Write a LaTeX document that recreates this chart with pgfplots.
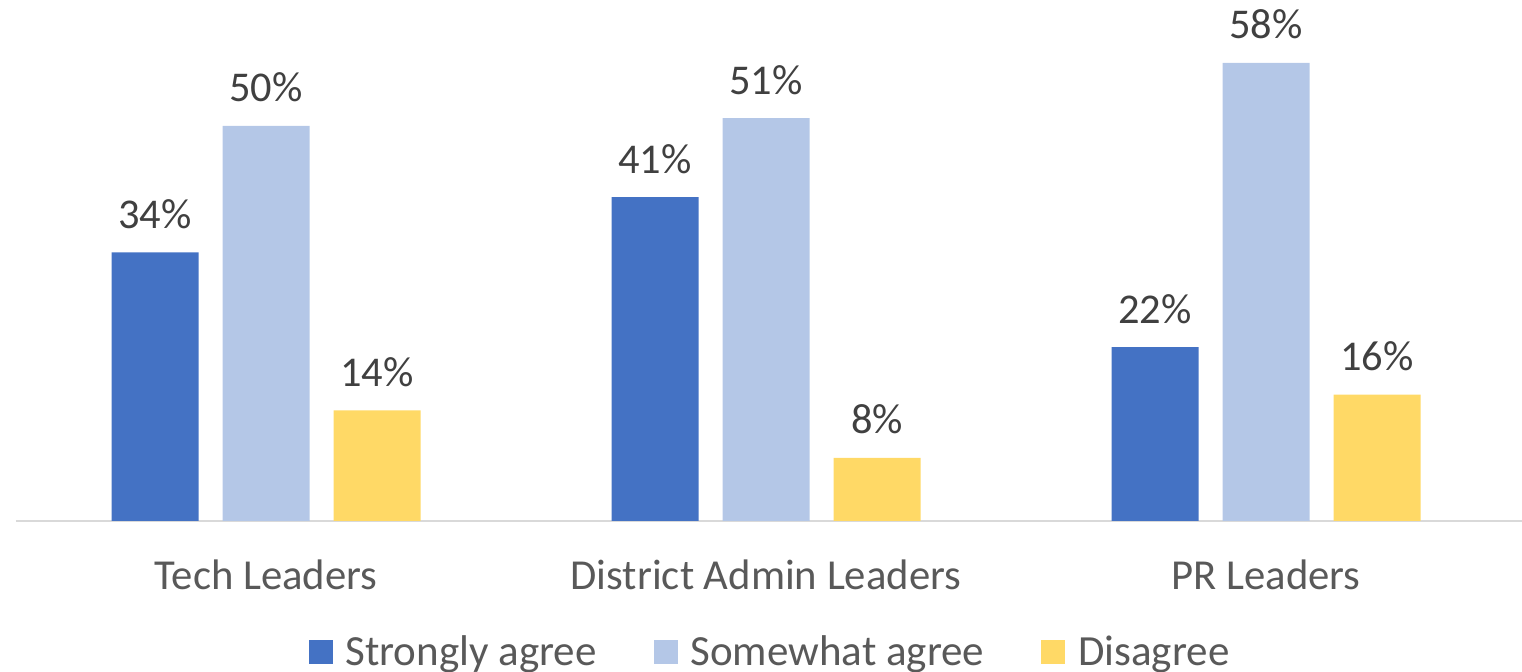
\documentclass[border=0pt]{standalone}
\usepackage{pgfplots}
\pgfplotsset{compat=1.18}
\usepackage{fontspec}
\setmainfont{Carlito}
\definecolor{cA}{HTML}{4472C4}
\definecolor{cB}{HTML}{B4C7E7}
\definecolor{cC}{HTML}{FFD966}
\definecolor{lab}{HTML}{404040}
\definecolor{tick}{HTML}{595959}
\definecolor{axl}{HTML}{D9D9D9}
\begin{document}
\begin{tikzpicture}
\path[use as bounding box] (-8pt,-75.5pt) rectangle (753pt,260.5pt);
\begin{axis}[
  scale only axis,
  width=753pt, height=256.75pt,
  xmin=-0.5, xmax=2.512,
  ymin=0, ymax=65,
  clip=false,
  /pgf/number format/assume math mode=true,
  ybar=12pt, bar width=43.5pt,
  axis x line=bottom, axis y line=none,
  x axis line style={-, draw=axl, line width=1pt},
  xtick={0,1,2},
  xticklabels={Tech Leaders, District Admin Leaders, PR Leaders},
  major tick length=0pt,
  xticklabel style={anchor=base, yshift=-34.5pt, inner sep=0pt, font=\fontsize{21.35}{26}\selectfont, text=tick},
  ytick=\empty,
  nodes near coords={\pgfmathprintnumber[assume math mode=true]{\pgfplotspointmeta}\%},
  nodes near coords style={anchor=base, yshift=12pt, inner sep=0pt, font=\fontsize{21.2}{26}\selectfont, text=lab},
  legend columns=3,
  legend style={draw=none, at={(0.5,0)}, anchor=center, yshift=-65.5pt,
    font=\fontsize{21.5}{26}\selectfont, text=tick,
    nodes={inner sep=0pt},
    /tikz/every odd column/.append style={column sep=6.5pt},
    /tikz/every even column/.append style={column sep=28.5pt}},
  legend image code/.code={\fill[#1] (0pt,-6pt) rectangle (12pt,6pt);},
]
\addplot[fill=cA, draw=none] coordinates {(0,34) (1,41) (2,22)};
\addplot[fill=cB, draw=none] coordinates {(0,50) (1,51) (2,58)};
\addplot[fill=cC, draw=none] coordinates {(0,14) (1,8) (2,16)};
\legend{Strongly agree, Somewhat agree, Disagree}
\end{axis}
\end{tikzpicture}
\end{document}
